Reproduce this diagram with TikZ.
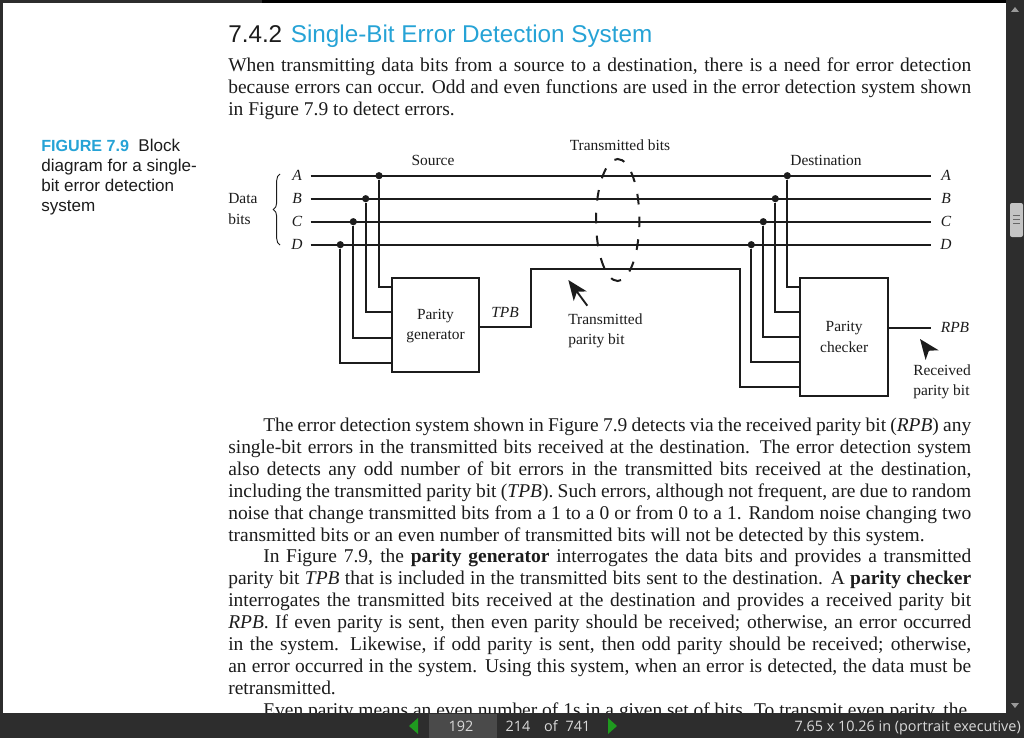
\documentclass[tikz,border=0pt]{standalone}
\usepackage{fontspec}
\setmainfont{Liberation Serif}
\setsansfont{Liberation Sans}
\newfontfamily\barfont{Open Sans}
\usetikzlibrary{shapes.geometric,arrows.meta,positioning,decorations.pathreplacing}
\definecolor{headcyan}{HTML}{26A3D6}
\definecolor{inkblack}{HTML}{1C1C1C}
\definecolor{bardark}{HTML}{2D2D2D}
\definecolor{barlight}{HTML}{4A4A4A}
\definecolor{thumbgrey}{HTML}{C4C4C4}
\definecolor{arrowgreen}{HTML}{1F9A1F}
\tikzset{
block/.style = {draw=inkblack, fill=white, rectangle, line width=1.4pt, minimum width=#1, inner sep=0pt},
tmp/.style = {coordinate},
input/.style = {coordinate},
output/.style = {coordinate},
dot/.style = {draw=none, fill=inkblack, circle, inner sep=0pt, minimum size=5.4pt},
wire/.style = {draw=inkblack, line width=1.4pt},
pointer/.style = {draw=inkblack, line width=1.4pt, -{Stealth[length=15pt,width=12pt,inset=4pt]}},
lab/.style = {inner sep=0pt, text=inkblack, font=\fontsize{11.6}{15.2}\selectfont, align=center},
sig/.style = {inner sep=0pt, text=inkblack, font=\fontsize{11.6}{15.2}\selectfont\itshape},
para/.style = {inner sep=0pt, anchor=north west, text=inkblack, text width=557.25pt, align=justify,
  font=\fontsize{14.6}{16.5}\selectfont},
capt/.style = {inner sep=0pt, anchor=north west, text=inkblack, align=left,
  font=\sffamily\fontsize{12.8}{15}\selectfont},
barlab/.style = {inner sep=0pt, text=white!85!black, font=\barfont\fontsize{10.8}{12}\selectfont}
}
\begin{document}
\sloppy\hyphenpenalty=10000
\begin{tikzpicture}[x=0.75pt,y=-0.75pt]
\useasboundingbox (0,0) rectangle (1024,738);
\fill[white] (0,0) rectangle (1024,738);
% page text
\node[inner sep=0pt, anchor=base west, text=inkblack, font=\sffamily\fontsize{18.2}{20}\selectfont] (head) at (228,43) {7.4.2\hspace{6.5pt}\textcolor{headcyan}{Single-Bit Error Detection System}};
\node[para] (para1) at (228,58) {When transmitting data bits from a source to a destination, there is a need for error detection\linebreak because errors can occur. Odd and even functions are used in the error detection system shown\linebreak in Figure 7.9 to detect errors.};
\node[para] (para2) at (228,418) {\hspace*{26.25pt}The error detection system shown in Figure 7.9 detects via the received parity bit (\textit{RPB}) any\linebreak single-bit errors in the transmitted bits received at the destination. The error detection system\linebreak also detects any odd number of bit errors in the transmitted bits received at the destination,\linebreak including the transmitted parity bit (\textit{TPB}). Such errors, although not frequent, are due to random\linebreak noise that change transmitted bits from a 1 to a 0 or from 0 to a 1. Random noise changing two\linebreak transmitted bits or an even number of transmitted bits will not be detected by this system.};
\node[para] (para3) at (228,549) {\hspace*{26.25pt}In Figure 7.9, the \textbf{parity generator} interrogates the data bits and provides a transmitted\linebreak parity bit \textit{TPB} that is included in the transmitted bits sent to the destination. A \textbf{parity checker}\linebreak interrogates the transmitted bits received at the destination and provides a received parity bit\linebreak \textit{RPB}. If even parity is sent, then even parity should be received; otherwise, an error occurred\linebreak in the system. Likewise, if odd parity is sent, then odd parity should be received; otherwise,\linebreak an error occurred in the system. Using this system, when an error is detected, the data must be\linebreak retransmitted.};
\node[para] (para4) at (228,703) {\hspace*{26.25pt}Even parity means an even number of 1s in a given set of bits. To transmit even parity, the};
\node[capt] (caption) at (41,139) {\textcolor{headcyan}{\fontsize{12.1}{15}\selectfont\bfseries FIGURE 7.9}\hspace{7pt}Block\\diagram for a single-\\bit error detection\\system};
% data lines
\node[input] (ina) at (310.7,175.7) {};
\node[input] (inb) at (310.7,198.7) {};
\node[input] (inc) at (310.7,221.7) {};
\node[input] (ind) at (310.7,244.7) {};
\node[output] (outa) at (930.7,175.7) {};
\node[output] (outb) at (930.7,198.7) {};
\node[output] (outc) at (930.7,221.7) {};
\node[output] (outd) at (930.7,244.7) {};
\draw[wire] (ina) -- (outa);
\draw[wire] (inb) -- (outb);
\draw[wire] (inc) -- (outc);
\draw[wire] (ind) -- (outd);
\node[sig] (laba) at (297,175.7) {A};
\node[sig] (labb) at (297,198.7) {B};
\node[sig] (labc) at (297,221.7) {C};
\node[sig] (labd) at (297,244.7) {D};
\node[sig] (laba2) at (946,175.7) {A};
\node[sig] (labb2) at (946,198.7) {B};
\node[sig] (labc2) at (946,221.7) {C};
\node[sig] (labd2) at (946,244.7) {D};
% blocks
\node[block=65.7pt, minimum height=70.7pt] (gen) at (435.5,324.8) {};
\node[block=66.2pt, minimum height=88.5pt] (chk) at (844.2,336.7) {};
\node[lab] (gentxt) at (435.5,326) {Parity\\generator};
\node[lab] (chktxt) at (844.2,337) {Parity\\checker};
% source taps
\node[dot] (srca) at (379,175.7) {};
\node[dot] (srcb) at (365.7,198.7) {};
\node[dot] (srcc) at (353.3,221.7) {};
\node[dot] (srcd) at (340.3,244.7) {};
\node[tmp] (gena) at (391.7,286.7) {};
\node[tmp] (genb) at (391.7,312) {};
\node[tmp] (genc) at (391.7,337.7) {};
\node[tmp] (gend) at (391.7,362.7) {};
\draw[wire] (srca) |- (gena);
\draw[wire] (srcb) |- (genb);
\draw[wire] (srcc) |- (genc);
\draw[wire] (srcd) |- (gend);
% destination taps
\node[dot] (dsta) at (787.3,175.7) {};
\node[dot] (dstb) at (775.3,198.7) {};
\node[dot] (dstc) at (763.3,221.7) {};
\node[dot] (dstd) at (751.3,244.7) {};
\node[tmp] (chka) at (800,286.7) {};
\node[tmp] (chkb) at (800,312) {};
\node[tmp] (chkc) at (800,336.7) {};
\node[tmp] (chkd) at (800,361.7) {};
\node[tmp] (chke) at (800,387) {};
\draw[wire] (dsta) |- (chka);
\draw[wire] (dstb) |- (chkb);
\draw[wire] (dstc) |- (chkc);
\draw[wire] (dstd) |- (chkd);
% parity bit line
\node[tmp] (tpbout) at (479.3,326.7) {};
\node[tmp] (tpbup) at (531,326.7) {};
\node[tmp] (tpbtop) at (531,268.7) {};
\node[tmp] (tpbdown) at (740,268.7) {};
\draw[wire] (tpbout) -- (tpbup) -- (tpbtop) -- (tpbdown) |- (chke);
\node[tmp] (rpbin) at (888.3,327.7) {};
\node[output] (rpbout) at (930.7,327.7) {};
\draw[wire] (rpbin) -- (rpbout);
\node[sig] (tpb) at (505,312) {TPB};
\node[sig] (rpb) at (955,327.7) {RPB};
% annotations
\node[lab] (source) at (433,160) {Source};
\node[lab] (dest) at (826,160) {Destination};
\node[lab] (txbits) at (620,145) {Transmitted bits};
\node[lab, align=left, anchor=west] (databits) at (228,209) {Data\\bits};
\node[lab, align=left, anchor=west] (txpar) at (568,331) {Transmitted\\parity bit};
\node[lab, align=left, anchor=west] (rxpar) at (913,381.5) {Received\\parity bit};
\node[draw=inkblack, ellipse, dashed, dash pattern=on 8pt off 9.16pt, dash phase=5.5pt, line width=1.5pt, inner sep=0pt, minimum width=32.5pt, minimum height=91.5pt] (ring) at (617.7,220) {};
\node[tmp] (tailtx) at (587.3,305.7) {};
\node[tmp] (tiptx) at (568.3,280) {};
\node[tmp] (tailrx) at (929,351) {};
\node[tmp] (tiprx) at (920,339) {};
\draw[pointer] (tailtx) -- (tiptx);
\draw[pointer] (tailrx) -- (tiprx);
\node[tmp] (bracebot) at (280,245) {};
\node[tmp] (bracetop) at (280,174) {};
\draw[draw=inkblack, line width=0.7pt, decorate, decoration={brace, amplitude=5pt}] (bracebot) -- (bracetop);
% viewer frame
\fill[bardark] (0,0) rectangle (1024,3);
\fill[black] (262,0) rectangle (1024,3);
\fill[bardark] (0,0) rectangle (3,738);
\fill[bardark] (1006,0) rectangle (1024,738);
\fill[thumbgrey, rounded corners=1.5pt] (1010,203) rectangle (1023,237);
\draw[black!60, line width=0.6pt] (1013,215) -- (1020,215) (1013,219) -- (1020,219) (1013,223) -- (1020,223);
\fill[white!60!black] (1015,7) -- (1019,12) -- (1011,12) -- cycle;
\fill[white!60!black] (1015,708) -- (1019,703) -- (1011,703) -- cycle;
\fill[bardark] (0,713) rectangle (1024,738);
\fill[barlight] (429,714) rectangle (497,738);
\fill[arrowgreen] (409,726) -- (418,718) -- (418,734) -- cycle;
\fill[arrowgreen] (617,726) -- (608,718) -- (608,734) -- cycle;
\node[barlab] (pagebox) at (461,726) {192};
\node[barlab] (pageno) at (518,726) {214};
\node[barlab] (pageof) at (551,726) {of};
\node[barlab] (pagetot) at (578,726) {741};
\node[barlab, anchor=east] (pagesize) at (1021,727.5) {7.65 x 10.26 in (portrait executive)};
\end{tikzpicture}
\end{document}
